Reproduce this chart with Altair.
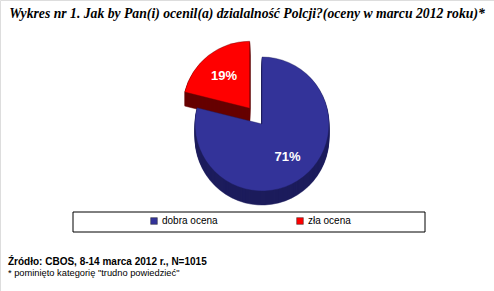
import math
import altair as alt
import pandas as pd

categories = ["dobra ocena", "zła ocena"]
values = [71, 19]
labels = ["71%", "19%"]
top_colors = ["#333399", "#FF0000"]
side_colors = ["#1c1c5c", "#660000"]

title_text = "Wykres nr 1. Jak by Pan(i) ocenil(a)  dzialalność Polcji?(oceny  w marcu 2012 roku)*"
source_text = "Źródło: CBOS,  8-14 marca 2012 r., N=1015"
note_text = '* pominięto kategorię "trudno powiedzieć"'

df = pd.DataFrame({"kat": categories, "val": values, "lab": labels})

W, H = 494, 291
R = 67
D = 14
cx, cy = 262, 124
explode = 20

# red slice mid-angle for explode direction
tot = sum(values)
mid_red = (values[0] + values[1] / 2) / tot * 2 * math.pi
centers = {
    categories[0]: (cx, cy),
    categories[1]: (cx + explode * math.sin(mid_red), cy - explode * math.cos(mid_red)),
}

base = (
    alt.Chart(df)
    .transform_joinaggregate(total="sum(val)")
    .transform_window(cum="sum(val)", sort=[alt.SortField("val", order="descending")], frame=[None, 0])
    .transform_calculate(t1="datum.cum / datum.total * 2 * PI")
    .transform_calculate(t0="(datum.cum - datum.val) / datum.total * 2 * PI")
    .transform_calculate(tm="(datum.t0 + datum.t1) / 2")
)

color = alt.Color(
    "kat:N",
    scale=alt.Scale(domain=categories, range=top_colors),
    legend=alt.Legend(
        orient="none",
        legendX=149,
        legendY=216,
        direction="horizontal",
        title=None,
        symbolType="square",
        symbolSize=45,
        symbolStrokeColor="#333333",
        symbolStrokeWidth=0.5,
        labelFont="Liberation Sans",
        labelFontSize=10,
        labelColor="#000000",
        columnPadding=77,
        labelOffset=3,
    ),
)

layers = []

legend_box = alt.Chart(pd.DataFrame({"a": [0]})).mark_rect(
    fill="white", stroke="black", strokeWidth=1
).encode(x=alt.value(73), x2=alt.value(425), y=alt.value(212), y2=alt.value(232))
layers.append(legend_box)

for i, cat in enumerate(categories):
    x0, y0 = centers[cat]
    for k in range(D, 0, -1):
        side = base.transform_filter(alt.datum.kat == cat).mark_arc(
            radius=R, color=side_colors[i], stroke=side_colors[i], strokeWidth=0.5
        ).encode(
            theta=alt.Theta("t0:Q", scale=None),
            theta2=alt.Theta2("t1:Q"),
            x=alt.value(x0),
            y=alt.value(y0 + k),
        )
        layers.append(side)

for i, cat in enumerate(categories):
    x0, y0 = centers[cat]
    top = base.transform_filter(alt.datum.kat == cat).mark_arc(
        radius=R, stroke=side_colors[i], strokeWidth=0.4
    ).encode(
        theta=alt.Theta("t0:Q", scale=None),
        theta2=alt.Theta2("t1:Q"),
        x=alt.value(x0),
        y=alt.value(y0),
        color=color,
    )
    layers.append(top)
    lab = base.transform_filter(alt.datum.kat == cat).mark_text(
        radius=R * 0.62, font="Liberation Sans", fontSize=13, fontWeight="bold", color="white"
    ).encode(
        theta=alt.Theta("tm:Q", scale=None),
        x=alt.value(x0),
        y=alt.value(y0),
        text="lab:N",
    )
    layers.append(lab)

def txt(s, x, y, size, weight="normal", style="normal", font="Liberation Sans", align="left"):
    return alt.Chart(pd.DataFrame({"t": [s]})).mark_text(
        font=font, fontSize=size, fontWeight=weight, fontStyle=style, align=align,
        baseline="alphabetic", color="black"
    ).encode(x=alt.value(x), y=alt.value(y), text="t:N")

layers.append(txt(title_text, 247, 18, 13.7, "bold", "italic", "Liberation Serif", "center"))
layers.append(txt(source_text, 8, 265, 10, "bold"))
layers.append(txt(note_text, 8, 276, 9.3))

chart = alt.layer(*layers).properties(
    width=W, height=H, autosize=alt.AutoSizeParams(type="none"), padding=0
).configure_view(stroke=None).configure(background="white")

chart.save("out.html", embed_options={"renderer": "svg", "actions": False})
